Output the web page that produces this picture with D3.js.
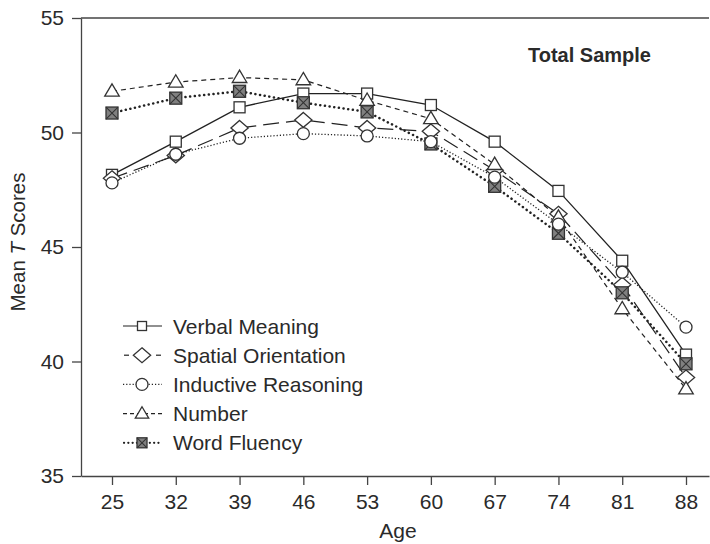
<!DOCTYPE html>
<html><head><meta charset="utf-8">
<script src="https://cdn.jsdelivr.net/npm/d3@7"></script>
<style>body{margin:0;background:#fff}svg{display:block;font-family:"Liberation Sans",Arial,Helvetica,sans-serif}</style>
</head><body><svg id="c" width="710" height="544"></svg>
<script>
const ages = [25, 32, 39, 46, 53, 60, 67, 74, 81, 88];
const yTicks = [35, 40, 45, 50, 55];
const seriesNames = ["Verbal Meaning", "Spatial Orientation", "Inductive Reasoning", "Number", "Word Fluency"];
const verbalMeaning      = [48.15, 49.6, 51.1, 51.7, 51.7, 51.2, 49.6, 47.45, 44.4, 40.3];
const spatialOrientation = [48.0, 49.0, 50.2, 50.55, 50.2, 50.05, 48.35, 46.45, 43.35, 39.3];
const inductiveReasoning = [47.8, 49.05, 49.75, 49.95, 49.85, 49.6, 48.05, 46.0, 43.9, 41.5];
const numberAbility      = [51.8, 52.2, 52.4, 52.3, 51.4, 50.6, 48.6, 46.3, 42.3, 38.8];
const wordFluency        = [50.85, 51.5, 51.8, 51.3, 50.9, 49.5, 47.65, 45.6, 43.0, 39.9];

const svg = d3.select("#c");
const L = 81, R = 709, T = 18, B = 476;
const xs = d3.scaleLinear().domain([25, 88]).range([112, 686]);
const x = d3.scaleLinear().domain([xs.invert(L), xs.invert(R)]).range([L, R]);
const y = d3.scaleLinear().domain([35, 55]).range([B, T]);
const ink = "#2a2a2a";

// frame top line
svg.append("line").attr("x1", L).attr("x2", R).attr("y1", T).attr("y2", T).attr("stroke", "#444").attr("stroke-width", 1.3);

const gy = svg.append("g").attr("transform", `translate(${L},0)`)
  .call(d3.axisLeft(y).tickValues(yTicks).tickSize(9).tickSizeOuter(0).tickPadding(8));
const gx = svg.append("g").attr("transform", `translate(0,${B})`)
  .call(d3.axisBottom(x).tickValues(ages).tickSize(9).tickSizeOuter(0).tickPadding(9));
[gx, gy].forEach(g => {
  g.selectAll("path,line").attr("stroke", "#444").attr("stroke-width", 1.3);
  g.selectAll("text").attr("fill", ink).style("font-size", "21px");
});

// axis titles
svg.append("text").attr("x", 398).attr("y", 538).attr("text-anchor", "middle")
  .attr("fill", ink).style("font-size", "21px").text("Age");
const yl = svg.append("text").attr("transform", "translate(25,242) rotate(-90)")
  .attr("text-anchor", "middle").attr("fill", ink).style("font-size", "20.5px");
yl.append("tspan").text("Mean ");
yl.append("tspan").style("font-style", "italic").text("T");
yl.append("tspan").text(" Scores");

svg.append("text").attr("x", 651).attr("y", 62).attr("text-anchor", "end")
  .attr("fill", ink).style("font-size", "20px").style("font-weight", "bold").text("Total Sample");

const series = [
  {name: seriesNames[0], vals: verbalMeaning, dash: null, w: 1.3, sym: "square"},
  {name: seriesNames[1], vals: spatialOrientation, dash: "16,7", w: 1.2, sym: "diamond"},
  {name: seriesNames[2], vals: inductiveReasoning, dash: "1.2,2", w: 1.3, sym: "circle"},
  {name: seriesNames[3], vals: numberAbility, dash: "5,4", w: 1.2, sym: "triangle"},
  {name: seriesNames[4], vals: wordFluency, dash: "0.1,4.6", w: 2.5, sym: "xsquare"}
];

function drawMarker(g, sym, cx, cy, s) {
  let el;
  if (sym === "square") {
    el = g.append("rect").attr("x", cx - s/2).attr("y", cy - s/2).attr("width", s).attr("height", s).attr("fill", "#fff");
  } else if (sym === "diamond") {
    const h = s * 0.72, v = s * 0.62;
    el = g.append("path").attr("d", `M${cx},${cy-v}L${cx+h},${cy}L${cx},${cy+v}L${cx-h},${cy}Z`).attr("fill", "#fff");
  } else if (sym === "circle") {
    el = g.append("circle").attr("cx", cx).attr("cy", cy).attr("r", s/2).attr("fill", "#fff");
  } else if (sym === "triangle") {
    const hw = s * 0.56, ht = s * 0.95;
    el = g.append("path").attr("d", `M${cx},${cy-ht*0.6}L${cx+hw},${cy+ht*0.4}L${cx-hw},${cy+ht*0.4}Z`).attr("fill", "#fff");
  } else {
    el = g.append("rect").attr("x", cx - s/2).attr("y", cy - s/2).attr("width", s).attr("height", s).attr("fill", "#808080");
    g.append("path").attr("d", `M${cx-s/2},${cy-s/2}L${cx+s/2},${cy+s/2}M${cx+s/2},${cy-s/2}L${cx-s/2},${cy+s/2}`)
      .attr("stroke", "#333").attr("stroke-width", 1.1);
  }
  el.attr("stroke", "#333").attr("stroke-width", 1.3);
}

const sizes = {square: 11, diamond: 12, circle: 12, triangle: 13, xsquare: 12};
const line = d3.line().x((d, i) => x(ages[i])).y(d => y(d));
series.forEach(s => {
  svg.append("path").datum(s.vals).attr("d", line).attr("fill", "none")
    .attr("stroke", "#222").attr("stroke-width", s.w).attr("stroke-dasharray", s.dash)
    .attr("stroke-linecap", s.sym === "xsquare" ? "round" : "butt");
});
const order = [0, 1, 3, 4, 2];
order.forEach(k => {
  const s = series[k];
  const g = svg.append("g");
  s.vals.forEach((v, i) => drawMarker(g, s.sym, x(ages[i]), y(v), sizes[s.sym]));
});

// legend
const lsizes = {square: 9, diamond: 12, circle: 12, triangle: 12, xsquare: 10};
const legendSegs = {
  square: [[123, 162, null]],
  diamond: [[124, 129, null], [156, 161, null]],
  circle: [[123, 162, "1.2,2"]],
  triangle: [[123, 162, "4,3"]],
  xsquare: [[124, 162, "0.1,4.2"]]
};
series.forEach((s, i) => {
  const cy = 326 + i * 29.2;
  const g = svg.append("g");
  legendSegs[s.sym].forEach(([a, b, d]) => {
    g.append("line").attr("x1", a).attr("x2", b).attr("y1", cy).attr("y2", cy)
      .attr("stroke", "#222").attr("stroke-width", s.sym === "xsquare" ? 2.2 : 1.2)
      .attr("stroke-dasharray", d)
      .attr("stroke-linecap", s.sym === "xsquare" ? "round" : "butt");
  });
  drawMarker(g, s.sym, 142, cy, lsizes[s.sym]);
  g.append("text").attr("x", 173).attr("y", cy + 7.5).attr("fill", ink).style("font-size", "21px").text(s.name);
});
</script></body></html>
